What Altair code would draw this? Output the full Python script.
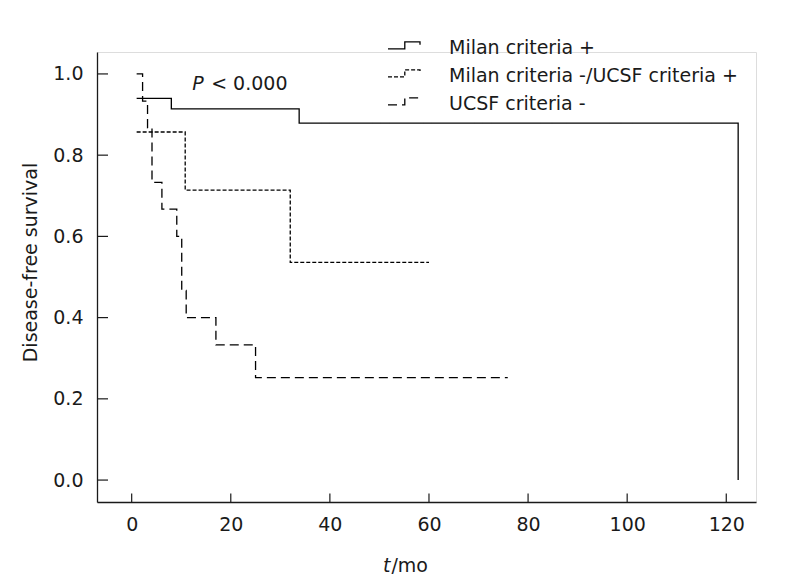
import altair as alt
import pandas as pd

# ---- data ----
series_names = ["Milan criteria +", "Milan criteria -/UCSF criteria +", "UCSF criteria -"]

milan_pos_t = [1.0, 8.0, 33.8, 122.4]
milan_pos_s = [0.940, 0.914, 0.879, 0.0]

milan_neg_ucsf_pos_t = [1.0, 10.8, 32.0, 60.0]
milan_neg_ucsf_pos_s = [0.857, 0.714, 0.536, 0.536]

ucsf_neg_t = [1.0, 2.2, 3.2, 4.1, 6.1, 9.1, 10.1, 11.0, 17.0, 25.0, 75.9]
ucsf_neg_s = [1.0, 0.933, 0.867, 0.733, 0.667, 0.600, 0.467, 0.400, 0.333, 0.252, 0.252]

x_ticks = [0, 20, 40, 60, 80, 100, 120]
y_ticks = [0.0, 0.2, 0.4, 0.6, 0.8, 1.0]

p_text_pos = (12.2, 0.975)
x_title_pos = 50.7

FONT = "DejaVu Sans"
FS = 19
INK = "#1a1a1a"
W, H = 659, 450

rows = []
for name, ts, ss in zip(series_names,
                        [milan_pos_t, milan_neg_ucsf_pos_t, ucsf_neg_t],
                        [milan_pos_s, milan_neg_ucsf_pos_s, ucsf_neg_s]):
    for i, (t, s) in enumerate(zip(ts, ss)):
        rows.append({"series": name, "t": t, "s": s, "i": i})
df = pd.DataFrame(rows)

xscale = alt.Scale(domain=[-7, 126], nice=False, zero=False)
yscale = alt.Scale(domain=[-0.054, 1.054], nice=False, zero=False)

xaxis = alt.Axis(values=x_ticks, format="d", ticks=False, tickSize=0, grid=False,
                 labelPadding=13, labelFlush=False, labelFont=FONT, labelFontSize=FS,
                 labelColor=INK, domainColor=INK, domainWidth=1.3, title=None)
yaxis = alt.Axis(values=y_ticks, format=".1f", ticks=False, tickSize=0, grid=False,
                 labelPadding=14, labelFlush=False, labelFont=FONT, labelFontSize=FS,
                 labelColor=INK, domainColor=INK, domainWidth=1.3,
                 title="Disease-free survival", titleFont=FONT, titleFontSize=FS,
                 titleFontWeight="normal", titleColor=INK, titleX=-67, titleY=210,
                 titleAngle=270, titleAlign="center", titleBaseline="middle")

legend_path = "M-1,0.05H0.05V-0.38H1V-0.2"

lines = alt.Chart(df).mark_line(interpolate="step-after", color="black", strokeWidth=1.3).encode(
    x=alt.X("t:Q", scale=xscale, axis=xaxis),
    y=alt.Y("s:Q", scale=yscale, axis=yaxis),
    strokeDash=alt.StrokeDash(
        "series:N",
        scale=alt.Scale(domain=series_names, range=[[1, 0], [4, 2], [9, 5]]),
        legend=alt.Legend(title=None, orient="none", legendX=290, legendY=-14,
                          symbolType=legend_path, symbolSize=1024,
                          symbolStrokeColor="black", symbolFillColor="transparent",
                          symbolStrokeWidth=1.3, labelFont=FONT, labelFontSize=FS,
                          labelColor=INK, labelOffset=28, rowPadding=8, clipHeight=20,
                          padding=0, labelLimit=400),
    ),
    order="i:O",
)

xt = alt.Chart(pd.DataFrame({"t": x_ticks})).mark_rule(color=INK, strokeWidth=1.2).encode(
    x=alt.X("t:Q", scale=xscale, axis=xaxis),
    y=alt.value(H), y2=alt.value(H - 8.5),
)
yt = alt.Chart(pd.DataFrame({"s": y_ticks})).mark_rule(color=INK, strokeWidth=1.2).encode(
    y=alt.Y("s:Q", scale=yscale, axis=yaxis),
    x=alt.value(0), x2=alt.value(11),
)

pdf = pd.DataFrame({"t": [p_text_pos[0]], "s": [p_text_pos[1]]})
p1 = alt.Chart(pdf).mark_text(text="P", fontStyle="italic", align="left", baseline="middle",
                              font=FONT, fontSize=FS, color=INK).encode(
    x=alt.X("t:Q", scale=xscale, axis=xaxis), y=alt.Y("s:Q", scale=yscale, axis=yaxis))
p2 = alt.Chart(pdf).mark_text(text="< 0.000", align="left", baseline="middle", dx=19,
                              font=FONT, fontSize=FS, color=INK).encode(
    x=alt.X("t:Q", scale=xscale, axis=xaxis), y=alt.Y("s:Q", scale=yscale, axis=yaxis))

tdf = pd.DataFrame({"t": [x_title_pos]})
t1 = alt.Chart(tdf).mark_text(text="t", fontStyle="italic", align="left", baseline="alphabetic",
                              font=FONT, fontSize=FS, color=INK).encode(
    x=alt.X("t:Q", scale=xscale, axis=xaxis), y=alt.value(H + 70))
t2 = alt.Chart(tdf).mark_text(text="/mo", align="left", baseline="alphabetic", dx=8.5,
                              font=FONT, fontSize=FS, color=INK).encode(
    x=alt.X("t:Q", scale=xscale, axis=xaxis), y=alt.value(H + 70))

chart = alt.layer(lines, xt, yt, p1, p2, t1, t2).properties(
    width=W, height=H,
    autosize=alt.AutoSizeParams(type="none"),
    padding={"left": 89, "top": 44, "right": 15, "bottom": 76},
).configure_view(stroke=None).configure(background="white")

chart.save("out.html", embed_options={"renderer": "svg", "actions": False})
